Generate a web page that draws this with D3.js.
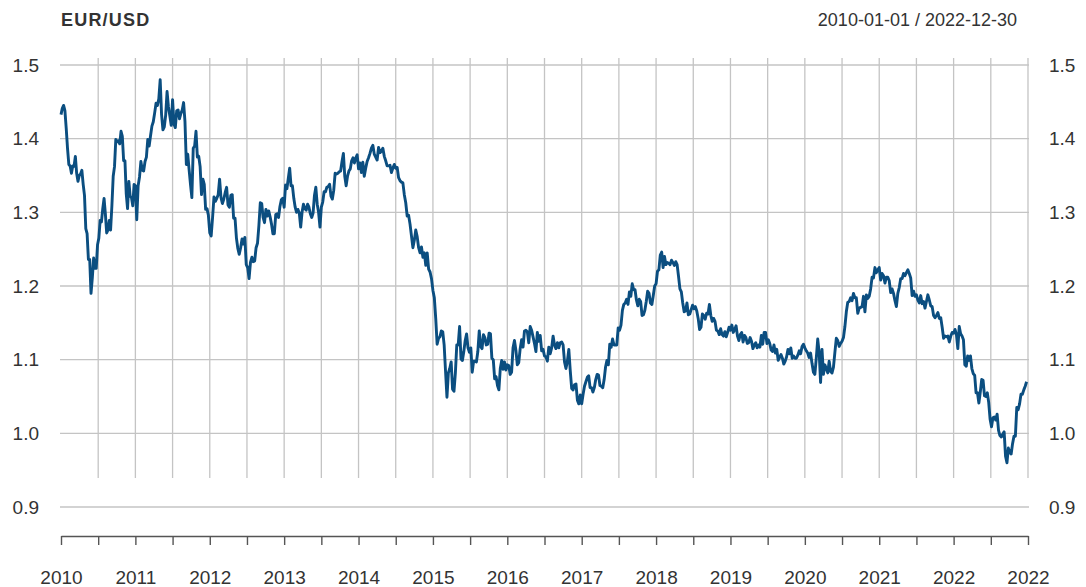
<!DOCTYPE html>
<html><head><meta charset="utf-8">
<script src="https://cdn.jsdelivr.net/npm/d3@7"></script>
<style>body{margin:0;background:#fff} text{font-family:"Liberation Sans", Arial, sans-serif}</style>
</head><body><svg id="c" width="1086" height="587"></svg>
<script>
const title = "EUR/USD";
const dateRange = "2010-01-01 / 2022-12-30";
const years = [2010,2011,2012,2013,2014,2015,2016,2017,2018,2019,2020,2021,2022];
const y2010 = [1.4326,1.4411,1.4451,1.4382,1.4140,1.3867,1.3650,1.3630,1.3530,1.3630,1.3625,1.3760,1.3530,1.3420,1.3500,1.3520,1.3570,1.3380,1.3230,1.2780,1.2710,1.2360,1.2360,1.1900,1.2110,1.2380,1.2240,1.2240,1.2560,1.2650,1.2890,1.2870,1.3050,1.3190,1.2980,1.2720,1.2760,1.2890,1.2760,1.3090,1.3490,1.3620,1.3990,1.3960,1.3970,1.3930,1.4100,1.4030,1.3700,1.3700,1.3250,1.3050,1.3420,1.3220,1.3200,1.3090,1.3380];
const y2011 = [1.3360,1.2900,1.3360,1.3480,1.3690,1.3570,1.3560,1.3690,1.3750,1.3990,1.3900,1.4040,1.4170,1.4230,1.4350,1.4480,1.4450,1.4540,1.4800,1.4330,1.4120,1.4160,1.4320,1.4640,1.4430,1.4310,1.4180,1.4530,1.4200,1.4150,1.4380,1.4390,1.4270,1.4340,1.4390,1.4490,1.4230,1.3650,1.3790,1.3580,1.3380,1.3200,1.3870,1.3900,1.4100,1.3750,1.3760,1.3620,1.3240,1.3450,1.3380,1.3040,1.3050,1.2960];
const y2012 = [1.2720,1.2680,1.2930,1.3210,1.3150,1.3190,1.3240,1.3450,1.3200,1.3120,1.3180,1.3270,1.3340,1.3100,1.3070,1.3230,1.3240,1.2920,1.2920,1.2650,1.2510,1.2430,1.2520,1.2640,1.2570,1.2660,1.2290,1.2250,1.2100,1.2320,1.2390,1.2330,1.2340,1.2520,1.2580,1.2820,1.3130,1.3120,1.2930,1.2860,1.3040,1.2950,1.3020,1.2940,1.2840,1.2710,1.2710,1.2970,1.2980,1.2930,1.3080,1.3170,1.3190];
const y2013 = [1.3070,1.3370,1.3320,1.3460,1.3600,1.3360,1.3360,1.3190,1.3070,1.3000,1.3040,1.2990,1.2800,1.3000,1.3110,1.3050,1.3030,1.3110,1.3070,1.2980,1.2930,1.2990,1.3230,1.3340,1.3110,1.3000,1.2800,1.3070,1.3140,1.3280,1.3280,1.3340,1.3350,1.3380,1.3220,1.3180,1.3300,1.3530,1.3520,1.3530,1.3550,1.3560,1.3690,1.3800,1.3490,1.3360,1.3490,1.3560,1.3590,1.3700,1.3740,1.3670,1.3740,1.3780];
const y2014 = [1.3590,1.3670,1.3540,1.3680,1.3490,1.3600,1.3690,1.3740,1.3800,1.3870,1.3910,1.3790,1.3750,1.3710,1.3880,1.3810,1.3830,1.3870,1.3760,1.3700,1.3630,1.3630,1.3640,1.3540,1.3600,1.3650,1.3600,1.3610,1.3470,1.3430,1.3410,1.3400,1.3240,1.3130,1.2950,1.2960,1.2840,1.2680,1.2520,1.2620,1.2760,1.2670,1.2520,1.2450,1.2530,1.2390,1.2450,1.2280,1.2450,1.2230,1.2190,1.2100];
const y2015 = [1.1940,1.1840,1.1560,1.1210,1.1290,1.1310,1.1390,1.1380,1.1200,1.0840,1.0490,1.0820,1.0880,1.0970,1.0600,1.0570,1.0820,1.1200,1.1200,1.1450,1.1010,1.0990,1.1110,1.1260,1.1350,1.1160,1.1100,1.1160,1.0830,1.0980,1.0980,1.0970,1.1110,1.1390,1.1180,1.1150,1.1340,1.1300,1.1200,1.1210,1.1360,1.1350,1.1020,1.1000,1.0740,1.0770,1.0650,1.0590,1.0880,1.0990,1.0870,1.0970,1.0860];
const y2016 = [1.0930,1.0920,1.0800,1.0830,1.1160,1.1260,1.1130,1.0930,1.0960,1.1150,1.1270,1.1170,1.1390,1.1400,1.1380,1.1230,1.1450,1.1400,1.1310,1.1220,1.1110,1.1370,1.1250,1.1330,1.1120,1.1140,1.1050,1.1040,1.0980,1.1170,1.1080,1.1160,1.1320,1.1200,1.1150,1.1230,1.1160,1.1230,1.1240,1.1200,1.0970,1.0880,1.0980,1.1140,1.0850,1.0610,1.0590,1.0660,1.0670,1.0450,1.0400,1.0520];
const y2017 = [1.0400,1.0530,1.0640,1.0700,1.0760,1.0780,1.0620,1.0620,1.0560,1.0620,1.0730,1.0800,1.0790,1.0650,1.0640,1.0620,1.0730,1.0900,1.0990,1.0930,1.1210,1.1170,1.1280,1.1200,1.1200,1.1200,1.1430,1.1400,1.1470,1.1670,1.1750,1.1770,1.1820,1.1750,1.1920,1.1860,1.2030,1.1950,1.1950,1.1810,1.1730,1.1820,1.1790,1.1600,1.1610,1.1670,1.1790,1.1930,1.1900,1.1770,1.1750,1.1870,1.2000];
const y2018 = [1.2030,1.2200,1.2220,1.2420,1.2460,1.2250,1.2400,1.2290,1.2320,1.2310,1.2290,1.2350,1.2320,1.2280,1.2330,1.2290,1.2130,1.1960,1.1920,1.1770,1.1650,1.1660,1.1770,1.1610,1.1620,1.1680,1.1740,1.1690,1.1720,1.1660,1.1560,1.1410,1.1440,1.1620,1.1600,1.1550,1.1630,1.1620,1.1750,1.1600,1.1520,1.1560,1.1520,1.1400,1.1390,1.1340,1.1420,1.1340,1.1320,1.1380,1.1310,1.1370,1.1440];
const y2019 = [1.1400,1.1470,1.1370,1.1410,1.1460,1.1320,1.1260,1.1340,1.1370,1.1240,1.1330,1.1300,1.1220,1.1230,1.1300,1.1250,1.1150,1.1200,1.1230,1.1160,1.1200,1.1170,1.1330,1.1210,1.1370,1.1370,1.1220,1.1270,1.1220,1.1130,1.1110,1.1200,1.1090,1.1140,1.0990,1.1030,1.1070,1.1020,1.0940,1.0980,1.1040,1.1140,1.1080,1.1160,1.1020,1.1050,1.1020,1.1020,1.1060,1.1120,1.1080,1.1180,1.1210];
const y2020 = [1.1160,1.1120,1.1090,1.1030,1.1090,1.0950,1.0830,1.0800,1.1020,1.1280,1.1100,1.0690,1.1140,1.0800,1.0930,1.0880,1.0820,1.0980,1.0840,1.0820,1.0900,1.1100,1.1290,1.1260,1.1180,1.1220,1.1250,1.1300,1.1450,1.1650,1.1780,1.1790,1.1840,1.1800,1.1900,1.1840,1.1840,1.1630,1.1700,1.1710,1.1720,1.1860,1.1650,1.1880,1.1830,1.1860,1.1960,1.2120,1.2110,1.2250,1.2180,1.2220];
const y2021 = [1.2250,1.2080,1.2170,1.2140,1.2040,1.2120,1.2120,1.2070,1.1910,1.1960,1.1900,1.1800,1.1720,1.1900,1.1980,1.2100,1.2100,1.2170,1.2140,1.2180,1.2220,1.2170,1.2110,1.1870,1.1930,1.1860,1.1880,1.1810,1.1770,1.1870,1.1760,1.1790,1.1700,1.1790,1.1880,1.1810,1.1730,1.1720,1.1600,1.1570,1.1600,1.1640,1.1560,1.1570,1.1440,1.1290,1.1320,1.1310,1.1320,1.1240,1.1320,1.1370];
const y2022 = [1.1360,1.1410,1.1340,1.1150,1.1450,1.1350,1.1320,1.1270,1.0930,1.0910,1.1050,1.0990,1.1050,1.0880,1.0810,1.0790,1.0550,1.0550,1.0410,1.0560,1.0730,1.0720,1.0510,1.0500,1.0550,1.0420,1.0190,1.0090,1.0210,1.0220,1.0180,1.0260,1.0040,0.9970,0.9950,0.9990,1.0020,0.9690,0.9600,0.9800,0.9740,0.9720,0.9860,0.9960,0.9960,1.0350,1.0320,1.0400,1.0530,1.0530,1.0590,1.0640,1.0700];
const seriesByYear = [y2010,y2011,y2012,y2013,y2014,y2015,y2016,y2017,y2018,y2019,y2020,y2021,y2022];
const yTicks = [0.9,1.0,1.1,1.2,1.3,1.4,1.5];
const yTickLabels = ["0.9","1.0","1.1","1.2","1.3","1.4","1.5"];
const xTickYears = [2010,2011,2012,2013,2014,2015,2016,2017,2018,2019,2020,2021,2022,2023];
const xTickLabels = ["2010","2011","2012","2013","2014","2015","2016","2017","2018","2019","2020","2021","2022","2022"];

const svg = d3.select("#c");
const x = d3.scaleLinear().domain([2010, 2023]).range([61, 1028]);
const y = d3.scaleLinear().domain([0.9, 1.5]).range([507, 65]);
const gridCol = "#c4c4c4", textCol = "#333333";

// points: position within each year by index (trading-index style x axis)
const pts = [];
seriesByYear.forEach((arr, i) => arr.forEach((v, j) => pts.push({t: years[i] + j / arr.length, v})));

// horizontal grid
svg.append("g").selectAll("line").data(yTicks).join("line")
  .attr("x1", 60).attr("x2", 1029)
  .attr("y1", d => y(d)).attr("y2", d => y(d))
  .attr("stroke", gridCol).attr("stroke-width", 1.3);

// vertical grid at half years
const halfYears = d3.range(2010.5, 2023.01, 0.5);
svg.append("g").selectAll("line").data(halfYears).join("line")
  .attr("x1", d => x(d)).attr("x2", d => x(d))
  .attr("y1", 58).attr("y2", 478)
  .attr("stroke", gridCol).attr("stroke-width", 1.3);

// line
svg.append("path").datum(pts)
  .attr("fill", "none").attr("stroke", "#0b4e80").attr("stroke-width", 2.9)
  .attr("stroke-linejoin", "round")
  .attr("d", d3.line().x(d => x(d.t)).y(d => y(d.v)));

// y axes
const fmtY = d => yTickLabels[yTicks.indexOf(d)];
const yl = svg.append("g").attr("transform", "translate(60,0)")
  .call(d3.axisLeft(y).tickValues(yTicks).tickFormat(fmtY).tickSize(0).tickPadding(21));
const yr = svg.append("g").attr("transform", "translate(1029,0)")
  .call(d3.axisRight(y).tickValues(yTicks).tickFormat(fmtY).tickSize(0).tickPadding(20));
[yl, yr].forEach(g => {
  g.select(".domain").remove();
  g.selectAll("text").attr("fill", textCol).style("font-size", "19px").style("font-family", "Liberation Sans, Arial, sans-serif");
});

// x axis
const xTicks = d3.range(2010, 2023.01, 0.5);
const xa = svg.append("g").attr("transform", "translate(0,536)")
  .call(d3.axisBottom(x).tickValues(xTicks).tickSizeInner(9).tickSizeOuter(0).tickPadding(26)
    .tickFormat(d => { const k = xTickYears.indexOf(d); return k >= 0 ? xTickLabels[k] : ""; }));
xa.select(".domain").attr("stroke", "#555").attr("stroke-width", 1.4);
xa.selectAll(".tick line").attr("stroke", "#555").attr("stroke-width", 1.4);
xa.selectAll("text").attr("fill", textCol).style("font-size", "19px").style("font-family", "Liberation Sans, Arial, sans-serif");

// titles
svg.append("text").attr("x", 61).attr("y", 26).text(title)
  .attr("fill", textCol).style("font-weight", "bold").style("font-size", "18px").style("letter-spacing", "1.2px");
svg.append("text").attr("x", 1017).attr("y", 26).attr("text-anchor", "end").text(dateRange)
  .attr("fill", textCol).style("font-size", "18px");
</script></body></html>
